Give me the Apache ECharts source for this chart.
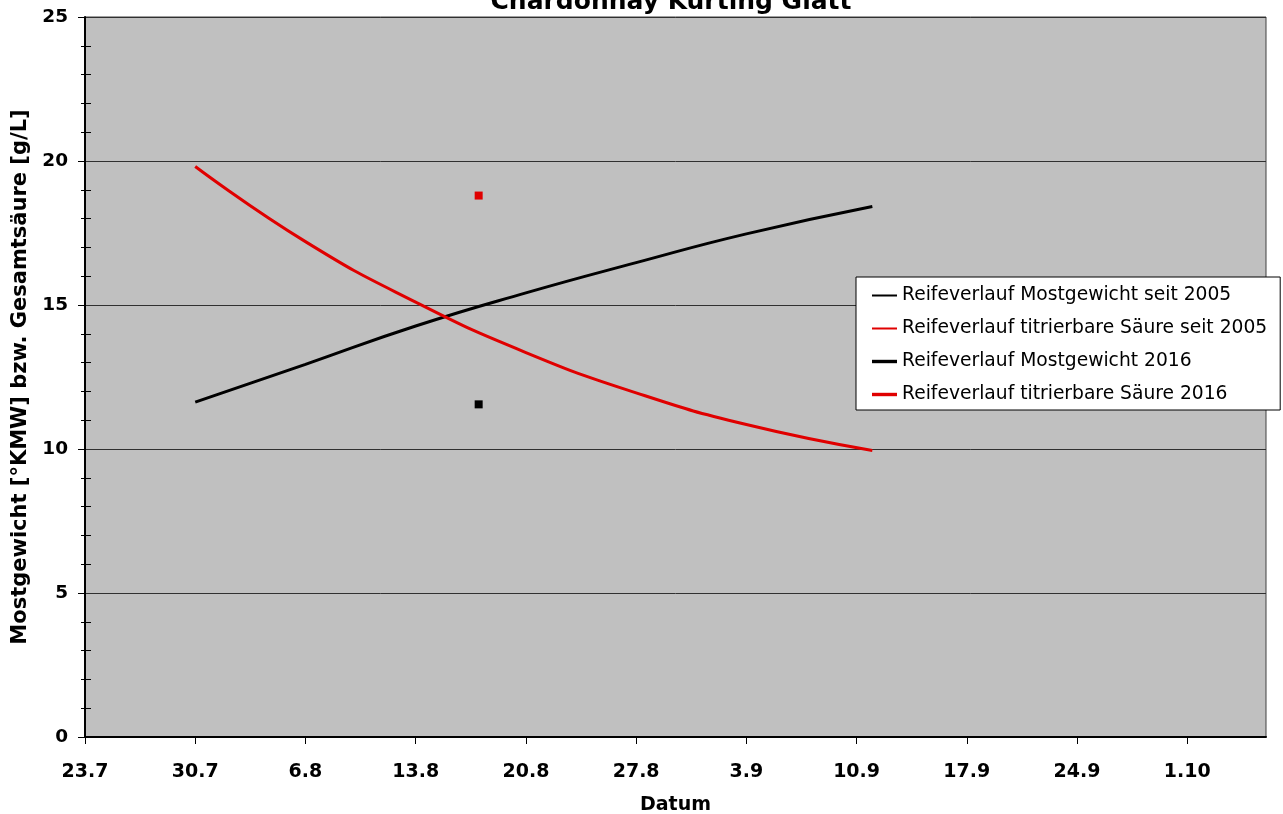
<!DOCTYPE html>
<html>
<head>
<meta charset="utf-8">
<script src="https://cdn.jsdelivr.net/npm/echarts@6/dist/echarts.min.js"></script>
<style>
  html, body { margin: 0; padding: 0; background: #ffffff; }
  #chart { width: 1283px; height: 814px; }
</style>
</head>
<body>
<div id="chart"></div>
<script>
// Ripening curve of Chardonnay: must weight and titratable acidity over the season
const titleText = 'Chardonnay Kürting Glatt';
const xAxisTitle = 'Datum';
const yAxisTitle = 'Mostgewicht [°KMW] bzw. Gesamtsäure [g/L]';

// x axis runs in days from this start date, one tick per week
const startDate = '2016-07-23';
const axisEndDay = 75;
const tickLabels = ['23.7', '30.7', '6.8', '13.8', '20.8', '27.8', '3.9', '10.9', '17.9', '24.9', '1.10'];

const seriesNames = [
  'Reifeverlauf Mostgewicht seit 2005',
  'Reifeverlauf titrierbare Säure seit 2005',
  'Reifeverlauf Mostgewicht 2016',
  'Reifeverlauf titrierbare Säure 2016'
];

// long-term average curves (since 2005), weekly values
const avgDates = ['2016-07-30', '2016-08-06', '2016-08-13', '2016-08-20', '2016-08-27', '2016-09-03', '2016-09-11'];
const mostgewichtAvg = [11.63, 12.94, 14.27, 15.42, 16.47, 17.47, 18.42];
const saeureAvg = [19.81, 17.20, 15.10, 13.35, 11.95, 10.85, 9.95];

// 2016 samples
const dates2016 = ['2016-08-17'];
const mostgewicht2016 = [11.55];
const saeure2016 = [18.8];

const FONT = 'DejaVu Sans';

function dayOf(iso) {
  return Math.round((Date.parse(iso) - Date.parse(startDate)) / 86400000);
}
function pairs(dates, values) {
  return dates.map((d, i) => [dayOf(d), values[i]]);
}

const weekTicks = tickLabels.map((_, i) => i * 7);

const thinIcon = 'path://M0,0H25V2H0Z';
const thickIcon = 'path://M0,0H25V3.4H0Z';

const chart = echarts.init(document.getElementById('chart'), null, { renderer: 'canvas' });

chart.setOption({
  animation: false,
  backgroundColor: '#ffffff',
  title: {
    text: titleText,
    left: 666,
    top: -15,
    textAlign: 'center',
    textStyle: { fontFamily: FONT, fontSize: 25, fontWeight: 'bold', color: '#000' }
  },
  grid: {
    left: 85, right: 17, top: 17, bottom: 77,
    outerBoundsMode: 'none',
    containLabel: false,
    show: true,
    backgroundColor: '#c0c0c0',
    borderColor: '#404040',
    borderWidth: 1
  },
  legend: {
    orient: 'vertical',
    left: 856,
    top: 277,
    padding: [9, 13, 6, 16],
    itemGap: 14,
    itemWidth: 25,
    itemHeight: 4,
    backgroundColor: '#ffffff',
    borderColor: '#000000',
    borderWidth: 1,
    borderRadius: 0,
    textStyle: { fontFamily: FONT, fontSize: 18.7, color: '#000' },
    data: [
      { name: seriesNames[0], icon: thinIcon },
      { name: seriesNames[1], icon: thinIcon },
      { name: seriesNames[2], icon: thickIcon },
      { name: seriesNames[3], icon: thickIcon }
    ]
  },
  xAxis: {
    type: 'value',
    min: 0,
    max: axisEndDay,
    interval: 7,
    name: xAxisTitle,
    nameLocation: 'middle',
    nameGap: 59,
    nameTextStyle: { fontFamily: FONT, fontSize: 19, fontWeight: 'bold', color: '#000' },
    axisLine: { show: true, onZero: false, lineStyle: { color: '#000', width: 2 } },
    axisTick: { show: true, length: 7, customValues: weekTicks, lineStyle: { color: '#000', width: 1 } },
    axisLabel: {
      customValues: weekTicks,
      margin: 26,
      fontFamily: FONT, fontSize: 19, fontWeight: 'bold', color: '#000',
      formatter: v => tickLabels[Math.round(v / 7)] || ''
    },
    splitLine: { show: false }
  },
  yAxis: [
    {
      type: 'value',
      min: 0, max: 25, interval: 5,
      position: 'left',
      name: yAxisTitle,
      nameLocation: 'middle',
      nameGap: 54,
      nameTextStyle: { fontFamily: FONT, fontSize: 21, fontWeight: 'bold', color: '#000' },
      axisLine: { show: true, lineStyle: { color: '#000', width: 2 } },
      axisTick: { show: true, length: 7, lineStyle: { color: '#000', width: 1 } },
      minorTick: { show: true, splitNumber: 5, length: 4, lineStyle: { color: '#000', width: 1 } },
      axisLabel: { margin: 17, fontFamily: FONT, fontSize: 18.5, fontWeight: 'bold', color: '#000' },
      splitLine: { show: true, lineStyle: { color: '#303030', width: 1 } }
    },
    {
      // second copy of the value axis: minor ticks reaching into the plot
      type: 'value',
      min: 0, max: 25, interval: 5,
      position: 'left',
      axisLine: { show: false },
      axisTick: { show: false, inside: true },
      minorTick: { show: true, splitNumber: 5, length: 6, lineStyle: { color: '#000', width: 1 } },
      axisLabel: { show: false },
      splitLine: { show: false }
    }
  ],
  series: [
    {
      name: seriesNames[0],
      type: 'line',
      data: pairs(avgDates, mostgewichtAvg),
      smooth: 0.5,
      showSymbol: false,
      symbol: 'none',
      color: '#000000',
      lineStyle: { color: '#000000', width: 3 },
      z: 3
    },
    {
      name: seriesNames[1],
      type: 'line',
      data: pairs(avgDates, saeureAvg),
      smooth: 0.5,
      showSymbol: false,
      symbol: 'none',
      color: '#e00000',
      lineStyle: { color: '#e00000', width: 3 },
      z: 3
    },
    {
      name: seriesNames[2],
      type: 'scatter',
      data: pairs(dates2016, mostgewicht2016),
      symbol: 'rect',
      symbolSize: 8,
      color: '#000000',
      itemStyle: { color: '#000000', opacity: 1 },
      z: 4
    },
    {
      name: seriesNames[3],
      type: 'scatter',
      data: pairs(dates2016, saeure2016),
      symbol: 'rect',
      symbolSize: 8,
      color: '#e00000',
      itemStyle: { color: '#e00000', opacity: 1 },
      z: 4
    }
  ]
});
</script>
</body>
</html>
